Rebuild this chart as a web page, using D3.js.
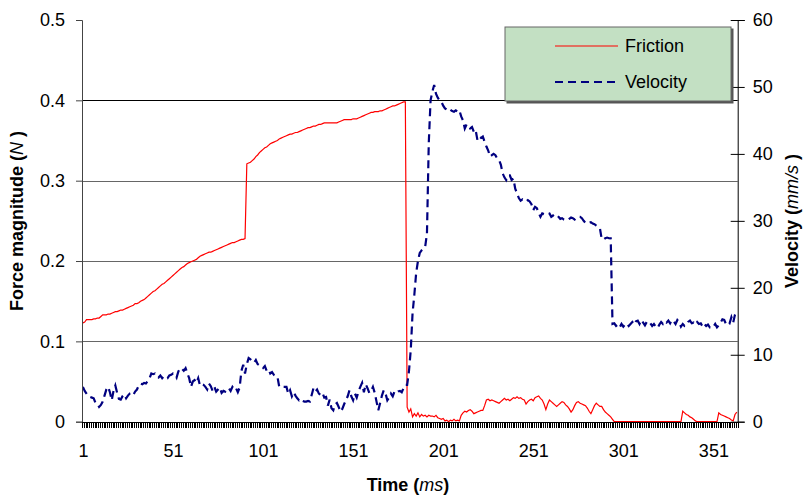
<!DOCTYPE html>
<html>
<head>
<meta charset="utf-8">
<script src="https://cdn.jsdelivr.net/npm/d3@7"></script>
<style>
  body { margin: 0; background: #fff; }
  text { font-family: Arial, "Liberation Sans", sans-serif; fill: #000; }
</style>
</head>
<body>
<div id="chart"></div>
<script>
// Data: one value per millisecond sample (1..364)
// =================================
var friction = [
  0.123, 0.124, 0.127, 0.127, 0.127, 0.127, 0.128, 0.128, 0.129, 0.129,
  0.131, 0.133, 0.133, 0.133, 0.134, 0.134, 0.135, 0.136, 0.137, 0.137,
  0.138, 0.139, 0.139, 0.140, 0.141, 0.142, 0.143, 0.144, 0.145, 0.147,
  0.147, 0.148, 0.150, 0.151, 0.152, 0.154, 0.156, 0.158, 0.160, 0.162,
  0.163, 0.165, 0.167, 0.169, 0.171, 0.172, 0.174, 0.176, 0.178, 0.180,
  0.182, 0.184, 0.186, 0.188, 0.190, 0.192, 0.193, 0.195, 0.197, 0.198,
  0.199, 0.200, 0.201, 0.202, 0.204, 0.206, 0.207, 0.208, 0.209, 0.210,
  0.211, 0.211, 0.212, 0.213, 0.214, 0.215, 0.216, 0.217, 0.218, 0.219,
  0.220, 0.221, 0.222, 0.223, 0.223, 0.224, 0.225, 0.226, 0.227, 0.227,
  0.228, 0.321, 0.322, 0.323, 0.325, 0.327, 0.330, 0.332, 0.335, 0.337,
  0.339, 0.341, 0.342, 0.344, 0.346, 0.347, 0.348, 0.349, 0.350, 0.352,
  0.353, 0.354, 0.355, 0.356, 0.357, 0.358, 0.358, 0.359, 0.360, 0.360,
  0.361, 0.362, 0.363, 0.364, 0.365, 0.366, 0.366, 0.367, 0.368, 0.368,
  0.369, 0.370, 0.370, 0.371, 0.372, 0.372, 0.372, 0.372, 0.372, 0.372,
  0.372, 0.372, 0.373, 0.374, 0.375, 0.376, 0.376, 0.376, 0.376, 0.376,
  0.377, 0.377, 0.377, 0.378, 0.379, 0.380, 0.381, 0.382, 0.383, 0.384,
  0.385, 0.385, 0.386, 0.386, 0.386, 0.387, 0.387, 0.388, 0.389, 0.390,
  0.391, 0.392, 0.393, 0.393, 0.394, 0.395, 0.396, 0.397, 0.398, 0.398,
  0.018, 0.012, 0.016, 0.006, 0.010, 0.007, 0.011, 0.006, 0.009, 0.007,
  0.008, 0.006, 0.008, 0.007, 0.007, 0.006, 0.008, 0.005, 0.004, 0.003,
  0.004, 0.001, 0.002, 0.000, 0.002, 0.001, 0.003, 0.001, 0.002, 0.001,
  0.008, 0.011, 0.013, 0.012, 0.014, 0.015, 0.013, 0.010, 0.011, 0.012,
  0.013, 0.014, 0.014, 0.020, 0.027, 0.028, 0.026, 0.027, 0.026, 0.025,
  0.024, 0.023, 0.025, 0.027, 0.029, 0.027, 0.028, 0.026, 0.028, 0.030,
  0.029, 0.031, 0.029, 0.030, 0.028, 0.027, 0.022, 0.025, 0.027, 0.028,
  0.026, 0.030, 0.031, 0.032, 0.029, 0.027, 0.022, 0.015, 0.022, 0.027,
  0.025, 0.023, 0.021, 0.019, 0.021, 0.023, 0.025, 0.024, 0.021, 0.019,
  0.016, 0.012, 0.015, 0.020, 0.024, 0.025, 0.023, 0.022, 0.021, 0.020,
  0.017, 0.013, 0.010, 0.015, 0.020, 0.023, 0.021, 0.019, 0.019, 0.015,
  0.012, 0.010, 0.008, 0.006, 0.003, 0, 0, 0, 0, 0,
  0, 0, 0, 0, 0, 0, 0, 0, 0, 0,
  0, 0, 0, 0, 0, 0, 0, 0, 0, 0,
  0, 0, 0, 0, 0, 0, 0, 0, 0, 0,
  0, 0, 0, 0.013, 0.011, 0.009, 0.008, 0.006, 0.005, 0.003,
  0.001, 0, 0, 0, 0, 0, 0, 0, 0, 0,
  0, 0, 0, 0.011, 0.009, 0.008, 0.007, 0.006, 0.005, 0.004,
  0.002, 0.001, 0.009, 0.012
];

var velocity = [
  5.2, 4.6, 4.2, 3.8, 3.7, 3.6, 3.5, 2.8, 2.7, 2.2,
  2.5, 3.0, 3.9, 4.8, 5.2, 4.4, 3.2, 4.6, 5.4, 4.3,
  3.4, 3.3, 3.8, 4.1, 3.5, 3.9, 4.2, 4.3, 4.0, 4.5,
  4.8, 5.4, 5.7, 5.6, 5.8, 5.7, 6.1, 6.5, 7.2, 7.1,
  7.2, 6.8, 6.6, 6.9, 6.5, 6.8, 6.6, 6.5, 6.9, 7.0,
  7.2, 7.1, 6.6, 7.5, 8.0, 7.9, 7.6, 8.0, 7.2, 6.5,
  5.2, 6.0, 6.2, 5.8, 6.5, 5.4, 5.6, 5.5, 5.2, 4.8,
  5.7, 5.3, 4.6, 5.2, 4.5, 4.8, 5.1, 4.3, 4.6, 4.5,
  4.9, 5.0, 4.6, 5.2, 4.8, 5.0, 4.4, 5.1, 7.6, 8.5,
  7.2, 8.6, 9.5, 9.3, 9.0, 8.8, 9.2, 8.6, 8.4, 8.2,
  8.0, 8.3, 7.6, 7.8, 7.2, 7.4, 7.0, 6.8, 6.7, 5.2,
  5.2, 5.2, 5.2, 5.2, 4.2, 4.7, 3.8, 4.4, 3.9, 3.5,
  3.2, 3.4, 3.1, 3.0, 3.0, 3.1, 3.0, 4.0, 5.0, 4.5,
  4.8, 4.2, 4.0, 4.3, 3.6, 3.7, 2.4, 3.3, 2.0, 1.7,
  2.6, 2.8, 2.2, 1.5, 1.9, 2.6, 3.2, 3.8, 4.7, 3.8,
  3.2, 4.2, 3.6, 4.5, 5.2, 5.8, 4.4, 5.6, 5.0, 4.3,
  4.6, 5.2, 4.3, 3.0, 1.7, 2.8, 3.9, 4.7, 4.2, 3.2,
  3.6, 4.2, 3.8, 4.5, 4.3, 4.5, 4.6, 4.4, 5.0, 5.5,
  5.5, 7.5, 10.7, 16.2, 19.0, 22.2, 24.0, 25.2, 25.6, 25.9,
  26.1, 28.1, 41.6, 48.0, 49.3, 50.3, 49.0, 48.4, 48.0, 47.8,
  47.2, 46.8, 46.6, 46.8, 46.6, 46.4, 46.3, 46.5, 46.3, 46.5,
  45.6, 45.0, 43.8, 44.4, 44.3, 43.8, 44.0, 43.3, 43.6, 42.1,
  42.6, 42.4, 42.6, 41.8, 41.1, 40.5, 39.6, 39.8, 40.0, 39.8,
  39.3, 39.1, 38.4, 37.1, 36.5, 36.1, 36.8, 36.8, 36.1, 36.3,
  34.8, 34.1, 33.4, 33.0, 33.2, 33.0, 32.9, 33.1, 32.9, 32.5,
  31.6, 32.1, 31.9, 31.2, 30.6, 31.1, 31.0, 31.1, 31.2, 31.1,
  30.6, 30.8, 31.0, 30.9, 30.6, 30.3, 30.4, 30.2, 30.1, 30.1,
  30.3, 30.5, 30.4, 30.2, 30.4, 30.6, 30.6, 30.4, 30.0, 29.7,
  29.6, 29.7, 29.8, 29.6, 29.5, 29.3, 29.1, 28.9, 27.3, 27.2,
  27.4, 27.5, 27.4, 27.4, 14.6, 14.7, 14.3, 14.5, 14.1, 14.6,
  14.2, 14.5, 14.7, 14.3, 14.6, 14.9, 14.5, 15.0, 15.1, 14.6,
  15.2, 14.8, 14.4, 14.9, 15.0, 14.7, 14.3, 14.6, 14.2, 14.0,
  14.5, 14.9, 14.6, 15.0, 14.8, 15.1, 14.7, 15.2, 15.0, 14.6,
  15.2, 14.9, 14.2, 14.6, 14.3, 14.4, 14.9, 15.1, 14.7, 14.8,
  14.5, 14.9, 14.6, 14.7, 14.2, 14.6, 14.3, 14.5, 14.1, 14.3,
  14.2, 14.6, 14.1, 14.4, 14.8, 15.3, 15.2, 14.6, 14.9, 14.7,
  15.6, 14.8, 16.0, 16.6
];

var xTickLabels = [1, 51, 101, 151, 201, 251, 301, 351];
var forceTicks = [0, 0.1, 0.2, 0.3, 0.4, 0.5];
var velocityTicks = [0, 10, 20, 30, 40, 50, 60];
var seriesNames = ["Friction", "Velocity"];
var nSamples = 364;

// Step 1: Set up our chart
// =================================
var svgWidth = 806;
var svgHeight = 499;
var fontSize = "18px";

var plot = { left: 82, right: 737.7, top: 20, bottom: 421.7 };

var svg = d3.select("#chart")
  .append("svg")
  .attr("width", svgWidth)
  .attr("height", svgHeight);

// Step 2: Scales
// =================================
var xScale = d3.scaleLinear()
  .domain([0.5, nSamples + 0.5])
  .range([plot.left, plot.right]);

var yForce = d3.scaleLinear()
  .domain([0, 0.5])
  .range([plot.bottom, plot.top]);

var yVelocity = d3.scaleLinear()
  .domain([0, 60])
  .range([plot.bottom, plot.top]);

// Step 3: Gridlines
// =================================
svg.append("g")
  .selectAll("line")
  .data(forceTicks.filter(d => d > 0 && d < 0.5))
  .enter().append("line")
  .attr("x1", plot.left)
  .attr("x2", plot.right)
  .attr("y1", d => Math.round(yForce(d)) + 0.5)
  .attr("y2", d => Math.round(yForce(d)) + 0.5)
  .attr("stroke", d => d === 0.4 ? "#000" : "#666")
  .attr("stroke-width", 1);

// Step 4: Series lines
// =================================
var frictionLine = d3.line()
  .x((d, i) => xScale(i + 1))
  .y(d => yForce(d));

var velocityLine = d3.line()
  .x((d, i) => xScale(i + 1))
  .y(d => yVelocity(d));

svg.append("path")
  .datum(friction)
  .attr("d", frictionLine)
  .attr("fill", "none")
  .attr("stroke", "#ff0000")
  .attr("stroke-width", 1.2);

svg.append("path")
  .datum(velocity)
  .attr("d", velocityLine)
  .attr("fill", "none")
  .attr("stroke", "#000080")
  .attr("stroke-width", 2.2)
  .attr("stroke-dasharray", "8,5");

// Step 5: Axes
// =================================
var leftAxis = d3.axisLeft(yForce)
  .tickValues(forceTicks)
  .tickSize(6)
  .tickPadding(11)
  .tickFormat(d => d === 0 ? "0" : d3.format(".1f")(d));

var gLeft = svg.append("g")
  .attr("transform", `translate(${plot.left}, 0)`)
  .call(leftAxis);
gLeft.select(".domain").attr("stroke", "#444");
gLeft.selectAll(".tick line").attr("stroke", "#444");

var rightAxis = d3.axisRight(yVelocity)
  .tickValues(velocityTicks)
  .tickSize(7)
  .tickPadding(8);

var gRight = svg.append("g")
  .attr("transform", `translate(${plot.right}, 0)`)
  .call(rightAxis);
gRight.select(".domain").attr("stroke", "#000");
gRight.selectAll(".tick line")
  .attr("x1", -7)
  .attr("stroke", "#000");

// every sample gets a small tick below the axis
var minorTicks = d3.range(0, nSamples + 1).map(i => i + 0.5);
var bottomAxis = d3.axisBottom(xScale)
  .tickValues(minorTicks)
  .tickSize(6)
  .tickFormat("")
  .tickSizeOuter(0);

var gBottom = svg.append("g")
  .attr("transform", `translate(0, ${plot.bottom})`)
  .call(bottomAxis);
gBottom.attr("shape-rendering", "crispEdges");
gBottom.selectAll(".tick line").attr("stroke", "#000");

var labelAxis = d3.axisBottom(xScale)
  .tickValues(xTickLabels)
  .tickSize(0)
  .tickPadding(23);

var gLabels = svg.append("g")
  .attr("transform", `translate(0, ${plot.bottom})`)
  .call(labelAxis);
gLabels.select(".domain").remove();

svg.selectAll(".tick text")
  .style("font-size", fontSize)
  .style("font-family", "Arial, 'Liberation Sans', sans-serif")
  .attr("fill", "#000");

// Step 6: Axis titles
// =================================
var xTitle = svg.append("text")
  .attr("x", 408)
  .attr("y", 491)
  .attr("text-anchor", "middle")
  .style("font-size", fontSize)
  .style("font-weight", "bold");
xTitle.append("tspan").text("Time (");
xTitle.append("tspan").text("ms").style("font-style", "italic").style("font-weight", "normal");
xTitle.append("tspan").text(")");

var yTitle = svg.append("text")
  .attr("transform", `translate(23, 221) rotate(-90)`)
  .attr("text-anchor", "middle")
  .style("font-size", fontSize)
  .style("font-weight", "bold");
yTitle.append("tspan").text("Force magnitude (");
yTitle.append("tspan").text("N").style("font-style", "italic").style("font-weight", "normal");
yTitle.append("tspan").text(" )");

var y2Title = svg.append("text")
  .attr("transform", `translate(798, 221) rotate(-90)`)
  .attr("text-anchor", "middle")
  .style("font-size", fontSize)
  .style("font-weight", "bold");
y2Title.append("tspan").text("Velocity (");
y2Title.append("tspan").text("mm/s").style("font-style", "italic").style("font-weight", "normal");
y2Title.append("tspan").text(" )");

// Step 7: Legend
// =================================
var legend = svg.append("g")
  .attr("transform", "translate(505, 27)");

legend.append("rect")
  .attr("x", 1.5)
  .attr("y", 1.5)
  .attr("width", 227)
  .attr("height", 75)
  .attr("fill", "#555");

legend.append("rect")
  .attr("width", 226)
  .attr("height", 74)
  .attr("fill", "#c3e0c3")
  .attr("stroke", "#666")
  .attr("stroke-width", 1);

var legendItems = legend.selectAll("g.item")
  .data(seriesNames)
  .enter().append("g")
  .attr("class", "item")
  .attr("transform", (d, i) => `translate(0, ${19 + i * 36})`);

legendItems.append("line")
  .attr("x1", 50)
  .attr("x2", 113)
  .attr("stroke", (d, i) => i === 0 ? "#ff0000" : "#000080")
  .attr("stroke-width", (d, i) => i === 0 ? 1.2 : 2.2)
  .attr("stroke-dasharray", (d, i) => i === 0 ? null : "8,5");

legendItems.append("text")
  .attr("x", 120)
  .attr("y", 6)
  .style("font-size", fontSize)
  .text(d => d);
</script>
</body>
</html>
